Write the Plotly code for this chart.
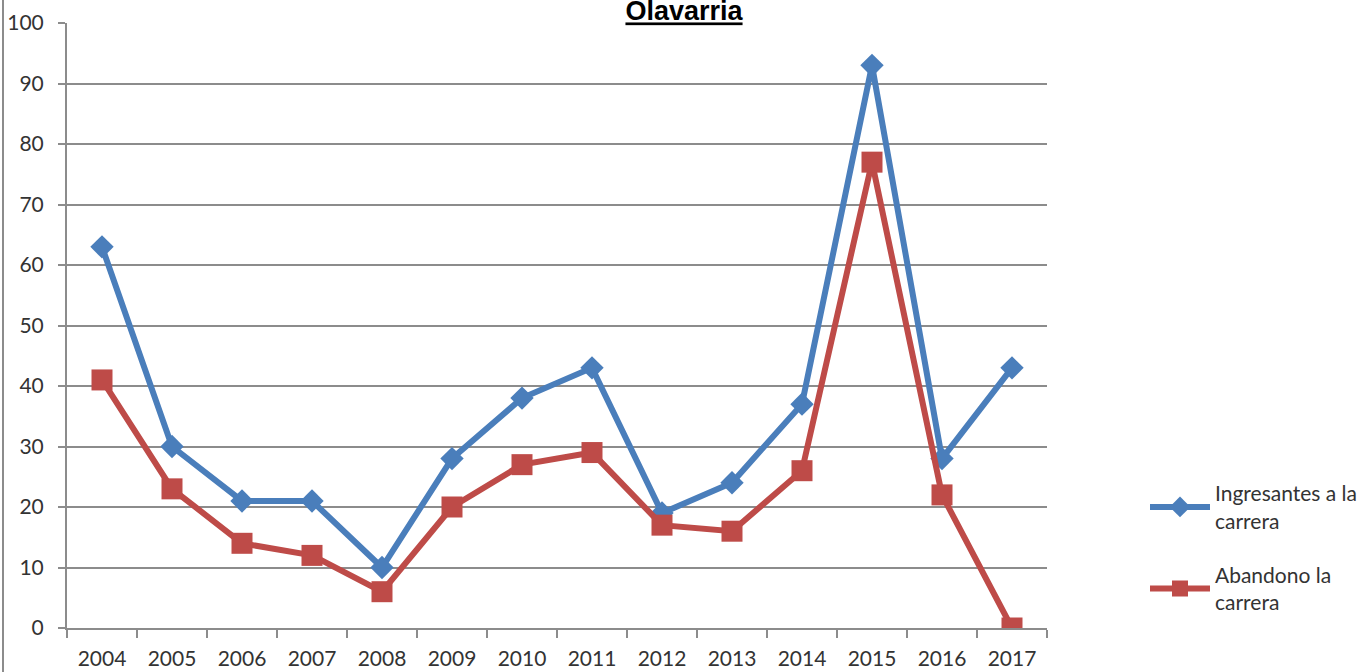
import plotly.graph_objects as go

years = ["2004", "2005", "2006", "2007", "2008", "2009", "2010", "2011",
         "2012", "2013", "2014", "2015", "2016", "2017"]
ingresantes = [63, 30, 21, 21, 10, 28, 38, 43, 19, 24, 37, 93, 28, 43]
abandono = [41, 23, 14, 12, 6, 20, 27, 29, 17, 16, 26, 77, 22, 0]
y_ticks = list(range(0, 101, 10))

blue = "#4A7EBB"
red = "#BE4B48"
grid = "#8C8C8C"
font_family = "Lato, 'Open Sans', sans-serif"

fig = go.Figure()
fig.add_trace(go.Scatter(
    x=years, y=ingresantes, mode="lines+markers",
    name="Ingresantes a la<br>carrera", legendgroup="a",
    line=dict(color=blue, width=6),
    marker=dict(symbol="diamond", size=18, color=blue),
))
fig.add_trace(go.Scatter(
    x=years, y=abandono, mode="lines+markers",
    name="Abandono la<br>carrera", legendgroup="b",
    line=dict(color=red, width=6),
    marker=dict(symbol="square", size=21, color=red),
))

fig.update_layout(
    width=1368, height=672,
    margin=dict(l=67, r=321, t=23, b=44, autoexpand=False),
    paper_bgcolor="white", plot_bgcolor="white",
    hovermode=False,
    title=dict(
        text="<b><span style='text-decoration:underline'>Olavarria</span></b>",
        x=0.5, xref="container", xanchor="center",
        y=1 - 11 / 672, yref="container", yanchor="middle",
        font=dict(family="'Liberation Sans', Arial, sans-serif", size=27, color="#000000"),
    ),
    legend=dict(
        x=1.1, xanchor="left", y=0.132, yanchor="middle",
        font=dict(family=font_family, size=21, color="#333333"),
        tracegroupgap=24, itemwidth=60,
        bgcolor="rgba(0,0,0,0)",
    ),
    font=dict(family=font_family, size=21, color="#333333"),
)

fig.update_xaxes(
    type="category", range=[-0.5, 13.5], automargin=False,
    showline=True, linecolor=grid, linewidth=2,
    ticks="outside", tickson="boundaries", ticklen=8, tickwidth=2, tickcolor=grid,
    showgrid=False, zeroline=False, ticklabelstandoff=11,
    tickfont=dict(family=font_family, size=21, color="#333333"),
)
fig.update_yaxes(
    range=[0, 100], tickvals=y_ticks, automargin=False,
    showline=True, linecolor=grid, linewidth=2,
    ticks="outside", ticklen=7, tickwidth=2, tickcolor=grid,
    showgrid=True, gridcolor=grid, gridwidth=2,
    zeroline=False, ticklabelstandoff=10,
    tickfont=dict(family=font_family, size=21, color="#333333"),
)

fig.add_shape(type="line", xref="paper", yref="paper",
              x0=-64 / 980, x1=-64 / 980, y0=-1, y1=2,
              line=dict(color=grid, width=2))

fig.write_html("out.html",
               config={"displayModeBar": False},
               post_script="document.body.style.margin='0';document.body.style.overflow='hidden';")
